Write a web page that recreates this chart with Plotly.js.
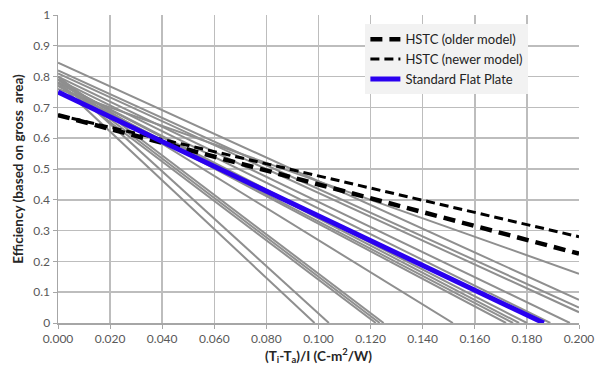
<!DOCTYPE html>
<html>
<head>
<meta charset="utf-8">
<script src="https://cdn.plot.ly/plotly-3.0.1.min.js"></script>
<style>html,body{margin:0;padding:0;background:#fff;}#chart{width:596px;height:369px;}</style>
</head>
<body>
<div id="chart"></div>
<script>
// Gray collector curves: efficiency at x=0, and end point (x, y)
const grayStartY = [0.845, 0.82, 0.81, 0.76, 0.80, 0.79, 0.78, 0.78, 0.77, 0.77, 0.79, 0.80, 0.79, 0.78, 0.80, 0.78];
const grayEndX   = [0.200, 0.200, 0.200, 0.200, 0.1965, 0.189, 0.180, 0.177, 0.1747, 0.172, 0.1516, 0.125, 0.1235, 0.122, 0.104, 0.0985];
const grayEndY   = [0.075, 0.05, 0.035, 0.16, 0, 0, 0, 0, 0, 0, 0, 0, 0, 0, 0, 0];

const olderX = [0.0, 0.2];
const olderY = [0.675, 0.225];
const newerX = [0.0, 0.2];
const newerY = [0.675, 0.28];
const flatX = [0.0, 0.1865];
const flatY = [0.75, 0.0];

const seriesNames = ["HSTC (older model)", "HSTC (newer model)", "Standard Flat Plate"];

const traces = [];
for (let i = 0; i < grayStartY.length; i++) {
  traces.push({
    x: [0, grayEndX[i]], y: [grayStartY[i], grayEndY[i]],
    mode: 'lines', line: {color: '#8f8f8f', width: 2}, showlegend: false, hoverinfo: 'skip'
  });
}
traces.push({x: olderX, y: olderY, name: seriesNames[0], mode: 'lines',
  line: {color: '#000', width: 4.5, dash: '12px,7px'}});
traces.push({x: newerX, y: newerY, name: seriesNames[1], mode: 'lines',
  line: {color: '#000', width: 3, dash: '9px,5px'}});
traces.push({x: flatX, y: flatY, name: seriesNames[2], mode: 'lines',
  line: {color: '#2a00f0', width: 5}});

const fam = 'Lato, "Open Sans", sans-serif';
const layout = {
  width: 596, height: 369,
  margin: {l: 58, r: 17, t: 15, b: 46},
  paper_bgcolor: '#fff', plot_bgcolor: '#fff',
  font: {family: fam, size: 12, color: '#595959'},
  showlegend: true,
  legend: {x: 0.59, y: 0.97, xanchor: 'left', yanchor: 'top', bgcolor: '#f2f2f2',
    font: {family: fam, size: 13, color: '#222'}, traceorder: 'normal',
    itemwidth: 30, tracegroupgap: 0},
  xaxis: {
    range: [0, 0.2], dtick: 0.02, tick0: 0, tickformat: '.3f',
    showgrid: true, gridcolor: '#bdbdbd', gridwidth: 1.5,
    showline: true, linecolor: '#a6a6a6', linewidth: 1.5,
    ticks: 'outside', ticklen: 4, tickcolor: '#a6a6a6', zeroline: false,
    tickfont: {family: fam, size: 12, color: '#595959'},
    title: {text: '<b>(T<sub>i</sub>-T<sub>a</sub>)/I (C-m<sup>2</sup>/W)</b>', font: {family: fam, size: 13.5, color: '#262626'}, standoff: 6}
  },
  yaxis: {
    range: [0, 1], dtick: 0.1, tick0: 0,
    showgrid: true, gridcolor: '#bdbdbd', gridwidth: 1.5,
    showline: true, linecolor: '#a6a6a6', linewidth: 1.5,
    ticks: 'outside', ticklen: 4, tickcolor: '#a6a6a6', zeroline: false,
    tickfont: {family: fam, size: 12, color: '#595959'},
    title: {text: '<b>Efficiency (based on gross  area)</b>', font: {family: fam, size: 13.5, color: '#262626'}, standoff: 6}
  }
};
Plotly.newPlot('chart', traces, layout, {displayModeBar: false, staticPlot: true});
</script>
</body>
</html>
